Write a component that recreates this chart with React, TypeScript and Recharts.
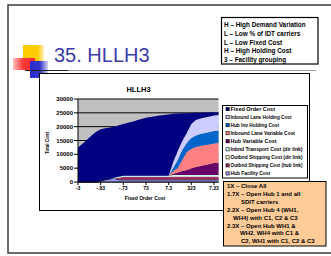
import React from 'react';
import { AreaChart, Area, XAxis, YAxis, CartesianGrid } from 'recharts';

// ---------- data ----------
const points = [0,1,2,3,4,5,6,7,8,9,10,11,12,13,14,15,16,17,18,19,20,21,22,23,24,25,26,27,28,29,30,31];
const xTickPositions = [0,5,10,15,20,25,30];
const xTickLabels = ['-3','-.83','-.73','73','7.3','323','7.33'];
const yTicks = [0,5000,10000,15000,20000,25000,30000];

const hubFacility      = [0,0,0,0,0,400,800,1100,1300,800,800,800,800,800,800,800,800,800,800,800,800,800,800,800,800,800,800,800,800,800,800,800];
const outShipHub       = [0,0,0,0,0,0,0,0,0,700,1100,1100,1100,1100,1100,1100,1100,1100,1100,1100,1100,1100,1100,1100,1100,1100,1100,1100,1100,1100,1100,1100];
const outShipDirect    = [0,0,0,0,0,0,0,0,0,0,0,0,0,0,0,0,0,0,0,0,0,200,200,200,200,200,200,200,200,200,200,200];
const inTransDirect    = [0,0,0,0,0,0,0,0,200,400,400,400,400,400,400,400,400,400,400,400,400,400,400,400,400,400,400,400,400,400,400,400];
const hubVariable      = [0,0,0,0,0,0,0,0,0,0,0,0,0,0,0,0,0,0,0,0,0,390,930,1480,1840,2380,2920,3280,3640,4000,4370,4550];
const inLaneVariable   = [0,0,0,0,0,0,0,0,0,0,0,0,0,0,0,0,0,0,0,0,0,1090,1630,3980,6500,7050,7230,7230,7230,7050,7050,7050];
const hubHolding       = [0,0,0,0,0,0,0,0,0,0,0,0,0,0,0,0,0,0,0,0,0,1090,2890,3620,3250,3980,4160,4340,4340,4520,4520,4520];
const inLaneHolding    = [0,0,0,0,0,0,0,0,0,0,0,0,0,0,0,0,0,0,0,0,0,2170,3250,3250,3610,5060,5600,5600,5600,5600,5600,5600];
const fixedOrder       = [12500,13800,15300,16800,18200,18700,18600,18600,18500,18600,18700,19100,19500,20000,20500,20900,21200,21500,21700,21900,22100,17400,13550,10030,7190,3990,2590,2100,1770,1430,1090,940];

// bottom of stack first
const seriesKeys = ['s1','s2','s3','s4','s5','s6','s7','s8','s9'];
const seriesNames = [
  'Hub Facility Cost',
  'Outbnd Shipping Cost (hub link)',
  'Outbnd Shipping Cost (dir link)',
  'Inbnd Transport Cost (dir link)',
  'Hub Variable Cost',
  'Inbound Lane Variable Cost',
  'Hub Inv Holding Cost',
  'Inbound Lane Holding Cost',
  'Fixed Order Cost',
];
const seriesValues = [hubFacility, outShipHub, outShipDirect, inTransDirect, hubVariable, inLaneVariable, hubHolding, inLaneHolding, fixedOrder];
const seriesColors = ['#9999FF','#993366','#FFFFCC','#CCFFFF','#660066','#FF8080','#0066CC','#CCCCFF','#000080'];

const slideTitle = '35. HLLH3';
const chartTitle = 'HLLH3';
const yAxisTitle = 'Total Cost';
const xAxisTitle = 'Fixed Order Cost';
const keyLines = [
  'H – High Demand Variation',
  'L – Low % of IDT carriers',
  'L – Low Fixed Cost',
  'H – High Holding Cost',
  '3 – Facility grouping',
];
const noteLines = [
  '1X – Close All',
  '1.7X – Open Hub 1 and all',
  'SDIT carriers',
  '2.2X – Open Hub 4 (WH1,',
  'WH4) with C1, C2 & C3',
  '2.3X – Open Hub WH1 &',
  'WH2, WH4 with C1 &',
  'C2, WH1 with C1, C2 & C3',
];

const rows = points.map((p, i) => {
  const r: Record<string, number> = { i: p };
  seriesKeys.forEach((k, s) => { r[k] = seriesValues[s][i]; });
  return r;
});

const FONT = 'Arial, "Liberation Sans", sans-serif';

export default function App() {
  const noteIndent = [227, 227, 241, 227, 233, 227, 240, 241];
  const legendOrder = [8,7,6,5,4,3,2,1,0];
  const legendTextWidth = [44.5, 61, 48.5, 64.5, 46, 72, 72, 72, 39.5];
  return (
    <div style={{ position: 'absolute', left: 0, top: 0, width: 331, height: 256, background: '#fff', overflow: 'hidden', fontFamily: FONT }}>
      <svg width={331} height={256} style={{ position: 'absolute', left: 0, top: 0 }}>
        <defs>
          <linearGradient id="gY" x1="0" y1="0" x2="1" y2="0">
            <stop offset="0" stopColor="#FFCC00" />
            <stop offset="0.7" stopColor="#FFCC00" />
            <stop offset="1" stopColor="#FFF0C0" />
          </linearGradient>
          <linearGradient id="gR" x1="0" y1="0" x2="1" y2="0">
            <stop offset="0" stopColor="#FFC0C0" />
            <stop offset="0.45" stopColor="#FF3B3B" />
            <stop offset="1" stopColor="#FF2A2A" />
          </linearGradient>
          <linearGradient id="gB" x1="0" y1="0" x2="1" y2="0">
            <stop offset="0" stopColor="#2B2BCC" />
            <stop offset="0.55" stopColor="#3535CC" />
            <stop offset="1" stopColor="#D6D6F4" />
          </linearGradient>
        </defs>
        {/* slide border */}
        <path d="M 331 5 H 8 V 253 H 331" fill="none" stroke="#3a3a3a" strokeWidth={1.5} />
        {/* decorative squares */}
        <rect x={23} y={45} width={21} height={16} fill="url(#gY)" />
        <rect x={13} y={58} width={22} height={12} fill="url(#gR)" />
        <rect x={30} y={61} width={18} height={17} fill="url(#gB)" />
        <line x1={25} y1={70.5} x2={68} y2={70.5} stroke="#222" strokeWidth={1} />
        <line x1={68} y1={70.5} x2={316} y2={70.5} stroke="#999" strokeWidth={1} />
        {/* slide title */}
        <text x={54} y={62} fontSize={20} fill="#3C3CAA" fontFamily={FONT}>{slideTitle}</text>
        {/* key box */}
        <rect x={221.5} y={17.5} width={96.5} height={46.5} fill="#fff" stroke="#000" strokeWidth={1.2} />
        {keyLines.map((t, k) => (
          <text key={k} x={224} y={27.3 + k * 8.6} fontSize={6.4} fontWeight="bold" fill="#000">{t}</text>
        ))}
        {/* chart box */}
        <rect x={39.5} y={73.5} width={270} height={137} fill="#fff" stroke="#000" strokeWidth={1} />
        {/* titles */}
        <text x={138.5} y={92} fontSize={7.5} fontWeight="bold" textAnchor="middle" fill="#000">{chartTitle}</text>
        <text x={0} y={0} fontSize={4.6} fontWeight="bold" textAnchor="middle" fill="#000" transform="translate(48.5 143) rotate(-90)">{yAxisTitle}</text>
        <text x={145} y={199.5} fontSize={5} fontWeight="bold" textAnchor="middle" fill="#000">{xAxisTitle}</text>
        {/* legend */}
        <rect x={222.5} y={105.5} width={85} height={72.5} fill="#fff" stroke="#000" strokeWidth={1} />
        {legendOrder.map((s, k) => (
          <g key={s}>
            <rect x={226} y={107.5 + k * 8.04} width={3.2} height={3.2} fill={seriesColors[s]} stroke="#000" strokeWidth={0.6} />
            <text x={230.5} y={111 + k * 8.04} fontSize={5.3} fontWeight="bold" fill="#000"
              textLength={legendTextWidth[k]} lengthAdjust="spacingAndGlyphs">{seriesNames[s]}</text>
          </g>
        ))}
        {/* note box */}
        <rect x={223.5} y={181.5} width={102.5} height={64.5} fill="#FFCC99" stroke="#000" strokeWidth={1} />
        {noteLines.map((t, k) => (
          <text key={k} x={noteIndent[k]} y={188.3 + k * 7.86} fontSize={6} fontWeight="bold" fill="#000">{t}</text>
        ))}
      </svg>
      <div style={{ position: 'absolute', left: 39, top: 73 }}>
        <AreaChart width={270} height={137} data={rows} margin={{ top: 26, right: 90.5, bottom: 8, left: 0 }}>
          <CartesianGrid vertical={false} stroke="#000" strokeWidth={1} fill="#C0C0C0" fillOpacity={1} />
          <XAxis
            dataKey="i"
            type="number"
            domain={[0, 31]}
            ticks={xTickPositions}
            interval={0}
            height={20}
            tickSize={3}
            tickMargin={1}
            stroke="#000"
            tickLine={{ stroke: '#000' }}
            axisLine={{ stroke: '#000' }}
            tick={{ fontSize: 5, fontWeight: 'bold', fill: '#000' }}
            tickFormatter={(v: number) => xTickLabels[xTickPositions.indexOf(v)] ?? ''}
          />
          <YAxis
            type="number"
            domain={[0, 30000]}
            ticks={yTicks}
            interval={0}
            width={39}
            tickSize={4}
            tickMargin={1}
            stroke="#000"
            tickLine={{ stroke: '#000' }}
            axisLine={{ stroke: '#000' }}
            tick={{ fontSize: 6, fontWeight: 'bold', fill: '#000' }}
          />
          {seriesKeys.map((k, s) => (
            <Area
              key={k}
              type="linear"
              dataKey={k}
              name={seriesNames[s]}
              stackId="1"
              fill={seriesColors[s]}
              fillOpacity={1}
              stroke={s === 0 ? '#000' : 'none'}
              strokeWidth={s === 0 ? 1 : 0}
              dot={false}
              activeDot={false}
              isAnimationActive={false}
            />
          ))}
        </AreaChart>
      </div>
    </div>
  );
}
